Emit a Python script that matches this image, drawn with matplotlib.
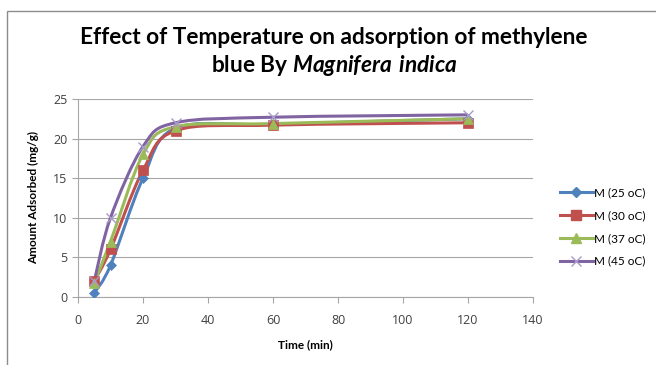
import numpy as np
import matplotlib
matplotlib.use("Agg")
import matplotlib.pyplot as plt
from matplotlib.path import Path
from matplotlib.patches import PathPatch, Rectangle
from matplotlib.lines import Line2D

plt.rcParams["font.family"] = ["Lato", "DejaVu Sans"]
plt.rcParams["mathtext.fontset"] = "custom"
plt.rcParams["mathtext.bfit"] = "Lato:italic:bold"
plt.rcParams["mathtext.rm"] = "Lato"

# data
time_min = [5, 10, 20, 30, 60, 120]
m25 = [0.5, 4.0, 15.0, 21.3, 21.8, 22.5]
m30 = [2.0, 6.0, 16.0, 21.0, 21.7, 22.0]
m37 = [1.8, 7.0, 18.0, 21.5, 21.9, 22.5]
m45 = [2.0, 10.0, 19.0, 22.0, 22.7, 23.0]
labels = ["M (25 oC)", "M (30 oC)", "M (37 oC)", "M (45 oC)"]
x_ticks = [0, 20, 40, 60, 80, 100, 120, 140]
y_ticks = [0, 5, 10, 15, 20, 25]

COLORS = ["#4F81BD", "#C0504D", "#9BBB59", "#8064A2"]
MARKERS = ["D", "s", "^", "x"]
MSIZE = [5, 7, 7, 7]


def smooth_path(xs, ys):
    # Excel-style smoothed line: cubic bezier segments with Catmull-Rom control points
    pts = list(zip(xs, ys))
    verts = [pts[0]]
    codes = [Path.MOVETO]
    n = len(pts)
    for i in range(n - 1):
        p0 = pts[i - 1] if i > 0 else pts[i]
        p1 = pts[i]
        p2 = pts[i + 1]
        p3 = pts[i + 2] if i + 2 < n else pts[i + 1]
        c1 = (p1[0] + (p2[0] - p0[0]) / 6, p1[1] + (p2[1] - p0[1]) / 6)
        c2 = (p2[0] - (p3[0] - p1[0]) / 6, p2[1] - (p3[1] - p1[1]) / 6)
        verts += [c1, c2, p2]
        codes += [Path.CURVE4] * 3
    return Path(verts, codes)


fig = plt.figure(figsize=(6.56, 3.65), dpi=100)
W, H = 656, 365

# outer chart frame (cropped at right / bottom like the reference)
fig.patches.append(Rectangle((7 / W, -0.05), 1.2, (H - 11) / H + 0.05,
                             transform=fig.transFigure, fill=False,
                             edgecolor="#8c8c8c", linewidth=1.0))

ax = fig.add_axes([78 / W, 1 - 297 / H, (533 - 78) / W, (297 - 99) / H])

series = [m25, m30, m37, m45]
handles = []
for ys, c, m, ms, lab in zip(series, COLORS, MARKERS, MSIZE, labels):
    ax.add_patch(PathPatch(smooth_path(time_min, ys), facecolor="none",
                           edgecolor=c, linewidth=2.2, zorder=3))
    mc = "#a99bc9" if m == "x" else c
    ax.plot(time_min, ys, linestyle="none", marker=m, markersize=ms,
            color=mc, markeredgewidth=1.0 if m == "x" else 0.5, zorder=4)
    handles.append(Line2D([], [], color=c, linewidth=2.2, marker=m,
                          markersize=ms, markerfacecolor=mc, markeredgecolor=mc,
                          label=lab))

ax.set_xlim(0, 140)
ax.set_ylim(0, 25)
ax.set_xticks(x_ticks)
ax.set_yticks(y_ticks)
ax.yaxis.grid(True, color="#a6a6a6", linewidth=0.8)
ax.set_axisbelow(True)
for s in ["top", "right"]:
    ax.spines[s].set_visible(False)
for s in ["left", "bottom"]:
    ax.spines[s].set_color("#a6a6a6")
    ax.spines[s].set_linewidth(0.8)
ax.tick_params(axis="both", colors="#a6a6a6", labelcolor="#404040",
               labelsize=9, length=4, direction="out")
ax.tick_params(axis="x", pad=8)
for t in ax.get_xticklabels() + ax.get_yticklabels():
    t.set_family("Open Sans")

ax.set_xlabel("Time (min)", fontsize=8.5, fontweight="bold", labelpad=9)
ax.set_ylabel("Amount Adsorbed (mg/g)", fontsize=8.5, fontweight="bold", labelpad=10)

fig.text(334 / W, 1 - 38 / H, "Effect of Temperature on adsorption of methylene",
         ha="center", va="center", fontsize=16.3, fontweight="bold")
fig.text(334 / W, 1 - 66 / H, r"blue By $\mathbfit{Magnifera\ indica}$",
         ha="center", va="center", fontsize=16.3, fontweight="bold")

fig.legend(handles=handles, loc="center left", bbox_to_anchor=(555 / W, 1 - 227 / H),
           frameon=False, fontsize=8.5, handlelength=2.8, labelspacing=1.0,
           handletextpad=0.1, borderaxespad=0)

fig.savefig("out.png", dpi=100)
